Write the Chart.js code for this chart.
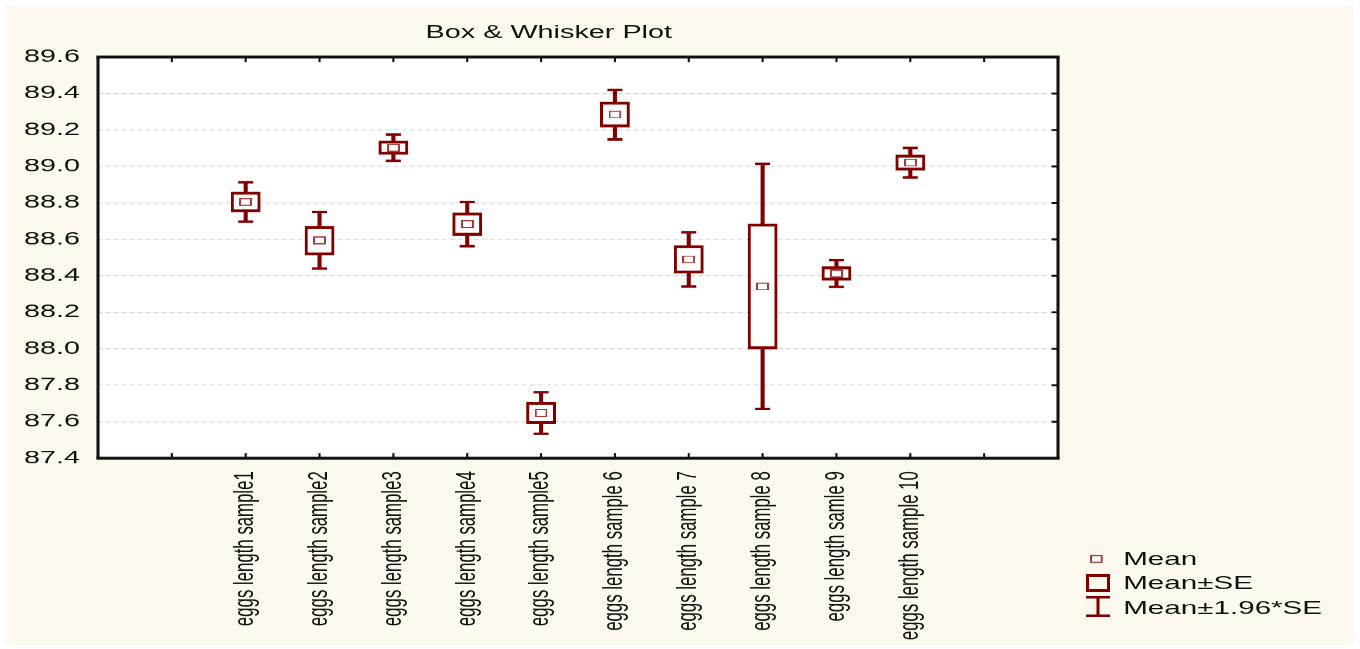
<!DOCTYPE html>
<html>
<head>
<meta charset="utf-8">
<title>Box &amp; Whisker Plot</title>
<script src="https://cdn.jsdelivr.net/npm/chart.js@4.4.1/dist/chart.umd.min.js"></script>
<style>
  html, body { margin: 0; padding: 0; background: #fff; }
  /* the original picture is stretched sideways, so the whole stage is too */
  #stage { position: absolute; left: 0; top: 0; width: 850px; height: 649px; transform: scaleX(1.6); transform-origin: 0 0;
           font-family: 'Liberation Sans', Arial, sans-serif; color: #111; }
  #paper { position: absolute; left: 2.5px; top: 5px; width: 843px; height: 640px; background: #fdf9ee; }
  #holder { position: absolute; left: 0; top: 0; width: 850px; height: 649px; }
  #title { position: absolute; left: 0; top: 22px; width: 686px; text-align: center; font-size: 18px; line-height: 20px; }
  .lg { position: absolute; left: 702px; font-size: 18.5px; line-height: 24px; white-space: nowrap; }
  #lgsym { position: absolute; left: 676px; top: 550px; }
</style>
</head>
<body>
<div id="stage">
  <div id="paper"></div>
  <div id="holder"><canvas id="c"></canvas></div>
  <div id="title">Box &amp; Whisker Plot</div>
  <svg id="lgsym" width="20" height="70">
    <rect x="5.9" y="5.6" width="6.7" height="6.7" fill="#fff" stroke="#a83838" stroke-width="1.2"/>
    <rect x="2.75" y="24" width="15" height="18" fill="#800000"/>
    <rect x="4.65" y="27" width="11.2" height="12" fill="#fdf9ee"/>
    <rect x="2.75" y="46" width="15" height="2.5" fill="#800000"/>
    <rect x="2.75" y="64.5" width="15" height="2.5" fill="#800000"/>
    <rect x="9.3" y="46" width="1.9" height="21" fill="#800000"/>
  </svg>
  <div class="lg" style="top:546.5px">Mean</div>
  <div class="lg" style="top:571px">Mean±SE</div>
  <div class="lg" style="top:595.5px">Mean±1.96*SE</div>
</div>
<script>
const categories = ['eggs length sample1', 'eggs length sample2', 'eggs length sample3', 'eggs length sample4',
  'eggs length sample5', 'eggs length sample 6', 'eggs length sample 7', 'eggs length sample 8',
  'eggs length samle 9', 'eggs length sample 10'];
const means  = [88.805, 88.594, 89.103, 88.684, 87.648, 89.285, 88.490, 88.342, 88.413, 89.021];
const seLow  = [88.750, 88.514, 89.066, 88.622, 87.590, 89.216, 88.414, 87.999, 88.376, 88.979];
const seHigh = [88.860, 88.672, 89.140, 88.746, 87.706, 89.354, 88.566, 88.685, 88.450, 89.063];
const ciLow  = [88.697, 88.440, 89.031, 88.563, 87.534, 89.148, 88.341, 87.670, 88.340, 88.940];
const ciHigh = [88.913, 88.750, 89.175, 88.805, 87.762, 89.420, 88.639, 89.014, 88.486, 89.102];
const yMin = 87.4, yMax = 89.6, yStep = 0.2;
const padSlots = 2; // empty slots either side of the samples

const dark = '#800000';
const font = "'Liberation Sans', Arial, sans-serif";
const slot = i => i + padSlots;

// small hollow rectangle for the mean marker, drawn big then shrunk so it stays sharp
const big = document.createElement('canvas');
big.width = 80; big.height = 80;
const bctx = big.getContext('2d');
bctx.fillStyle = '#fff';
bctx.fillRect(6, 6, 68, 68);
bctx.strokeStyle = '#a83838';
bctx.lineWidth = 12;
bctx.strokeRect(6, 6, 68, 68);
const meanMark = new Image(8, 8);

const meanData = categories.map((c, i) => ({ x: slot(i), y: means[i] }));
const capData = categories.flatMap((c, i) => [{ x: slot(i), y: ciLow[i] }, { x: slot(i), y: ciHigh[i] }]);
const boxData = categories.map((c, i) => ({ x: slot(i), y: [seLow[i], seHigh[i]] }));
const whiskerData = categories.map((c, i) => ({ x: slot(i), y: [ciLow[i], ciHigh[i]] }));

// white plot area, black frame and the little inward ticks
const frame = {
  id: 'frame',
  beforeDraw(chart) {
    const { ctx, chartArea: a } = chart;
    ctx.save();
    ctx.fillStyle = '#fff';
    ctx.fillRect(a.left, a.top, a.right - a.left, a.bottom - a.top);
    ctx.restore();
  },
  afterDraw(chart) {
    const { ctx, chartArea: a, scales: { x, y } } = chart;
    ctx.save();
    ctx.strokeStyle = '#111';
    ctx.beginPath();
    ctx.lineWidth = 1.3;
    x.ticks.forEach(t => {
      const px = x.getPixelForValue(t.value);
      ctx.moveTo(px, a.top); ctx.lineTo(px, a.top + 5);
      ctx.moveTo(px, a.bottom); ctx.lineTo(px, a.bottom - 5);
    });
    ctx.stroke();
    ctx.beginPath();
    ctx.lineWidth = 2;
    y.ticks.forEach(t => {
      const py = y.getPixelForValue(t.value);
      ctx.moveTo(a.right - 4, py); ctx.lineTo(a.right, py);
    });
    ctx.stroke();
    ctx.beginPath();
    ctx.lineWidth = 3;
    ctx.moveTo(a.left - 1, a.top); ctx.lineTo(a.right + 1, a.top);
    ctx.moveTo(a.left - 1, a.bottom); ctx.lineTo(a.right + 1, a.bottom);
    ctx.stroke();
    ctx.beginPath();
    ctx.lineWidth = 1.9;
    ctx.moveTo(a.left, a.top); ctx.lineTo(a.left, a.bottom);
    ctx.moveTo(a.right, a.top); ctx.lineTo(a.right, a.bottom);
    ctx.stroke();
    ctx.restore();
  }
};

function drawChart() {
  new Chart(document.getElementById('c'), {
    type: 'bar',
    data: {
      datasets: [
        { type: 'scatter', label: 'Mean', data: meanData, pointStyle: meanMark, pointRadius: 4, order: 0 },
        { type: 'scatter', label: 'caps', data: capData, pointStyle: 'line', pointRadius: 4.7,
          pointBorderColor: dark, pointBorderWidth: 2.5, borderColor: dark, order: 1 },
        { type: 'bar', label: 'Mean±SE', data: boxData, backgroundColor: '#fff', borderColor: dark,
          borderWidth: { top: 3, bottom: 3, left: 1.9, right: 1.9 }, borderSkipped: false,
          barThickness: 18, grouped: false, order: 2 },
        { type: 'bar', label: 'Mean±1.96*SE', data: whiskerData, backgroundColor: dark, borderWidth: 0,
          barThickness: 1.9, grouped: false, order: 3 }
      ]
    },
    options: {
      responsive: true,
      maintainAspectRatio: false,
      devicePixelRatio: 1.6,
      animation: false,
      events: [],
      layout: { padding: { top: 57, right: 188.75, left: 0, bottom: 0 } },
      plugins: { legend: { display: false }, tooltip: { enabled: false }, title: { display: false } },
      scales: {
        x: {
          type: 'linear', offset: false,
          min: 0, max: categories.length + 2 * padSlots - 1,
          afterFit: s => { s.height = 191; },
          ticks: {
            stepSize: 1, autoSkip: false, maxRotation: 90, minRotation: 90, padding: 13,
            color: '#111', font: { family: font, size: 16.8 },
            callback: v => categories[Math.round(v) - padSlots] ?? ''
          },
          grid: { display: false, drawTicks: false, offset: false },
          border: { display: false }
        },
        y: {
          min: yMin, max: yMax,
          afterFit: s => { s.width = 61.25; },
          ticks: { stepSize: yStep, padding: 11.25, color: '#111', font: { family: font, size: 18 },
                   callback: v => v.toFixed(1) },
          grid: { color: '#d2d2d2', lineWidth: 1, drawTicks: false },
          border: { display: false, dash: [3, 2] }
        }
      }
    },
    plugins: [frame]
  });
}

meanMark.onload = drawChart;
meanMark.src = big.toDataURL();
</script>
</body>
</html>
